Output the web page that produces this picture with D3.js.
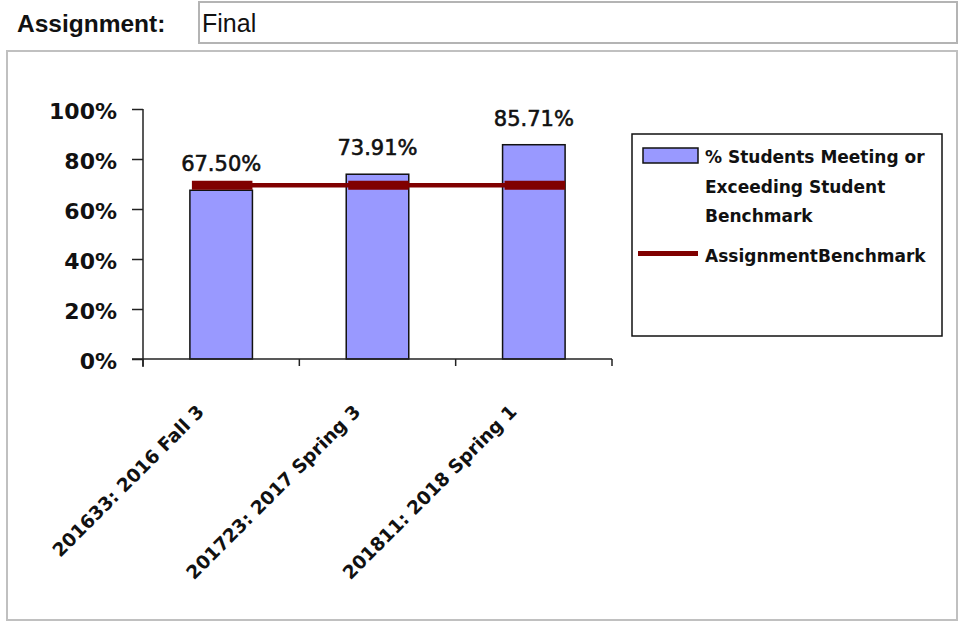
<!DOCTYPE html>
<html>
<head>
<meta charset="utf-8">
<script src="https://cdn.jsdelivr.net/npm/d3@7/dist/d3.min.js"></script>
<style>
  html, body { margin: 0; padding: 0; background: #fff; }
  svg { display: block; }
</style>
</head>
<body>
<svg id="chart" width="959" height="624"></svg>
<script>
// ---- data ----
const categories = ["201633: 2016 Fall 3", "201723: 2017 Spring 3", "201811: 2018 Spring 1"];
const studentPct = [0.675, 0.7391, 0.8571];
const benchmarkPct = [0.695, 0.695, 0.695];
const dataLabels = ["67.50%", "73.91%", "85.71%"];
const yTicks = [0, 0.2, 0.4, 0.6, 0.8, 1.0];
const seriesNames = ["% Students Meeting or|Exceeding Student|Benchmark", "AssignmentBenchmark"];
const headerLabel = "Assignment:";
const headerValue = "Final";

// ---- drawing ----
const svg = d3.select("#chart");
const barColor = "#9999FF";
const lineColor = "#800000";

// header
svg.append("text").attr("x", 17).attr("y", 32)
  .attr("font-family", "Liberation Sans, Arial, sans-serif").attr("font-weight", "bold")
  .attr("font-size", 24.5).attr("fill", "#111").text(headerLabel);
svg.append("rect").attr("x", 199).attr("y", 2).attr("width", 758).attr("height", 41)
  .attr("fill", "#fff").attr("stroke", "#b4b4b4").attr("stroke-width", 2);
svg.append("text").attr("x", 202).attr("y", 32)
  .attr("font-family", "Liberation Sans, Arial, sans-serif")
  .attr("font-size", 25).attr("fill", "#111").text(headerValue);

// chart frame
svg.append("rect").attr("x", 7).attr("y", 51).attr("width", 950).attr("height", 569)
  .attr("fill", "#fff").attr("stroke", "#c0c0c0").attr("stroke-width", 2);

const x = d3.scaleBand().domain(categories).range([143, 612]).paddingInner(0.6).paddingOuter(0.3);
const y = d3.scaleLinear().domain([0, 1]).range([359, 109]);

// bars
svg.append("g").selectAll("rect").data(categories).join("rect")
  .attr("x", d => x(d)).attr("y", (d, i) => y(studentPct[i]))
  .attr("width", x.bandwidth()).attr("height", (d, i) => y(0) - y(studentPct[i]))
  .attr("fill", barColor).attr("stroke", "#111").attr("stroke-width", 1.5);

// y axis
const yAxis = svg.append("g").attr("transform", "translate(143,0)")
  .call(d3.axisLeft(y).tickValues(yTicks).tickFormat(d3.format(".0%")).tickSize(11).tickPadding(15));
yAxis.select(".domain").attr("stroke", "#222").attr("stroke-width", 1.5).attr("d", "M0,109V367");
yAxis.selectAll(".tick line").attr("stroke", "#222").attr("stroke-width", 1.5);
yAxis.selectAll(".tick text")
  .attr("font-family", "DejaVu Sans, Verdana, sans-serif").attr("font-weight", "bold")
  .attr("font-size", 22).attr("fill", "#111").attr("dy", "0.42em");

// x axis (ticks between categories)
const half = (x.step() - x.bandwidth()) / 2;
const tickXs = categories.map(c => x(c) - half).concat([612]);
tickXs[0] = 143;
const xAxisG = svg.append("g");
xAxisG.append("line").attr("x1", 132).attr("x2", 612).attr("y1", y(0)).attr("y2", y(0))
  .attr("stroke", "#222").attr("stroke-width", 1.5);
xAxisG.selectAll("line.tk").data(tickXs).join("line")
  .attr("class", "tk").attr("x1", d => d).attr("x2", d => d).attr("y1", y(0)).attr("y2", y(0) + 7)
  .attr("stroke", "#222").attr("stroke-width", 1.5);

// category labels rotated
svg.append("g").selectAll("text").data(categories).join("text")
  .attr("transform", d => `translate(${x(d) + x.bandwidth() / 2 - 16},413) rotate(-45)`)
  .attr("text-anchor", "end")
  .attr("font-family", "DejaVu Sans, Verdana, sans-serif").attr("font-weight", "bold")
  .attr("font-size", 18.5).attr("fill", "#111").text(d => d);

// benchmark line
const cx = d => x(d) + x.bandwidth() / 2;
const line = d3.line().x((d, i) => cx(categories[i])).y(d => y(d));
svg.append("path").datum(benchmarkPct).attr("d", line)
  .attr("fill", "none").attr("stroke", lineColor).attr("stroke-width", 4.5);
svg.append("g").selectAll("rect").data(benchmarkPct).join("rect")
  .attr("x", (d, i) => cx(categories[i]) - x.bandwidth() / 2 + 2)
  .attr("y", d => y(d) - 4.5).attr("width", x.bandwidth() - 2).attr("height", 9)
  .attr("fill", lineColor);

// data labels
svg.append("g").selectAll("text").data(categories).join("text")
  .attr("x", d => cx(d)).attr("y", (d, i) => y(studentPct[i]) - 19)
  .attr("text-anchor", "middle")
  .attr("font-family", "DejaVu Sans, Verdana, sans-serif")
  .attr("font-size", 21).attr("fill", "#111")
  .attr("stroke", "#111").attr("stroke-width", 0.6)
  .text((d, i) => dataLabels[i]);

// legend
const lg = svg.append("g");
lg.append("rect").attr("x", 632).attr("y", 134).attr("width", 310).attr("height", 202)
  .attr("fill", "#fff").attr("stroke", "#111").attr("stroke-width", 1.5);
lg.append("rect").attr("x", 643).attr("y", 148).attr("width", 55).attr("height", 15)
  .attr("fill", barColor).attr("stroke", "#111").attr("stroke-width", 1.5);
const l1 = seriesNames[0].split("|");
lg.selectAll("text.s1").data(l1).join("text").attr("class", "s1")
  .attr("x", 705).attr("y", (d, i) => 163 + i * 29.5)
  .attr("font-family", "DejaVu Sans, Verdana, sans-serif").attr("font-weight", "bold")
  .attr("font-size", 17).attr("fill", "#111").text(d => d);
lg.append("line").attr("x1", 638).attr("x2", 698).attr("y1", 253.5).attr("y2", 253.5)
  .attr("stroke", lineColor).attr("stroke-width", 5);
lg.append("text").attr("x", 705).attr("y", 261.5)
  .attr("font-family", "DejaVu Sans, Verdana, sans-serif").attr("font-weight", "bold")
  .attr("font-size", 17).attr("fill", "#111").text(seriesNames[1]);
</script>
</body>
</html>
